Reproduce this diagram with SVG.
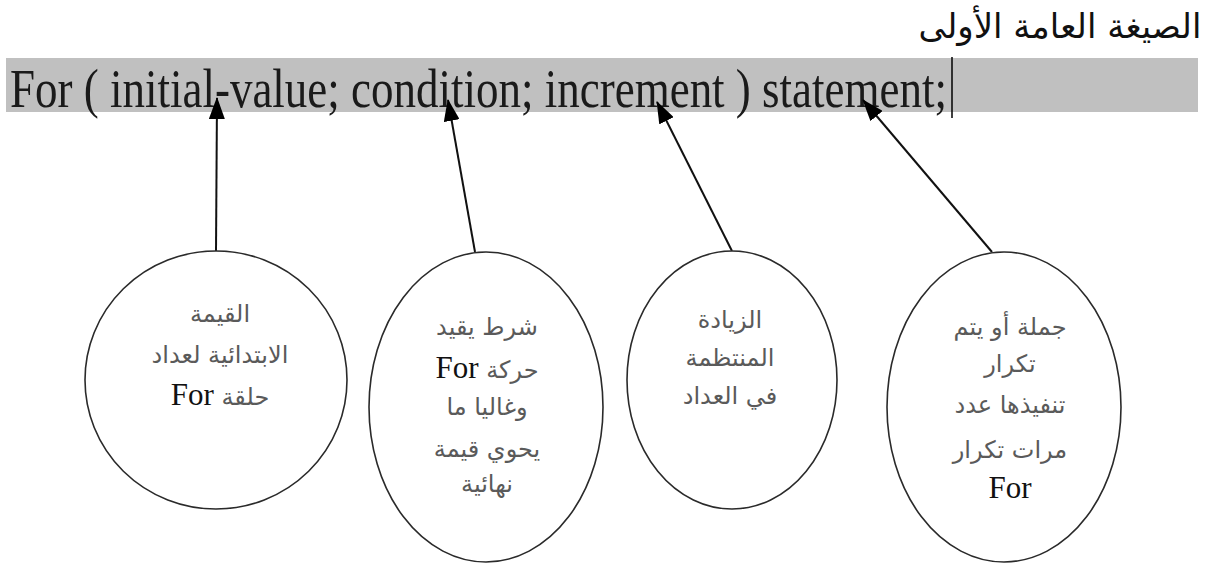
<svg xmlns="http://www.w3.org/2000/svg" width="1209" height="565" viewBox="0 0 1209 565">
<style>
.ar{font-family:"DejaVu Sans","Noto Sans",sans-serif;font-size:24px;fill:#5a5a5a;text-anchor:middle}
.for{font-family:"Liberation Serif",serif;font-size:31px;fill:#111}
.node ellipse{fill:#fff;stroke:#2a2a2a;stroke-width:1.6}
.conn line{stroke:#111;stroke-width:2}
</style>
<defs>
<marker id="ah" markerUnits="userSpaceOnUse" markerWidth="22" markerHeight="16" refX="21" refY="8" orient="auto">
<path d="M0,0 L22,8 L0,16 z" fill="#000"/>
</marker>
</defs>
<rect width="1209" height="565" fill="#fff"/>
<g id="title">
<text x="1060" y="38" font-family="DejaVu Sans, sans-serif" font-size="34" fill="#111" text-anchor="middle">الصيغة العامة الأولى</text>
</g>
<g id="syntax">
<rect x="6" y="58" width="1192" height="54" fill="#c0c0c0"/>
<text x="10" y="107" font-family="Liberation Serif, serif" font-size="55" fill="#1a1a1a" textLength="937" lengthAdjust="spacingAndGlyphs">For ( initial-value; condition; increment ) statement;</text>
<line x1="952" y1="57" x2="952" y2="118" stroke="#000" stroke-width="1.5"/>
</g>
<g class="conn" id="connectors">
<line x1="216" y1="251" x2="217" y2="98" marker-end="url(#ah)"/>
<line x1="475" y1="252" x2="448" y2="100" marker-end="url(#ah)"/>
<line x1="732" y1="251" x2="657" y2="102" marker-end="url(#ah)"/>
<line x1="992" y1="252" x2="863" y2="100" marker-end="url(#ah)"/>
</g>
<g class="node" id="node-initial">
<ellipse cx="216" cy="380" rx="131" ry="129"/>
<text class="ar" x="220" y="322">القيمة</text>
<text class="ar" x="220" y="363">الابتدائية لعداد</text>
<text class="ar" x="220" y="405" direction="rtl">حلقة <tspan class="for">For</tspan></text>
</g>
<g class="node" id="node-condition">
<ellipse cx="486" cy="407" rx="117" ry="155"/>
<text class="ar" x="487" y="335">شرط يقيد</text>
<text class="ar" x="487" y="378" direction="rtl">حركة <tspan class="for">For</tspan></text>
<text class="ar" x="487" y="415">وغاليا ما</text>
<text class="ar" x="487" y="457">يحوي قيمة</text>
<text class="ar" x="487" y="492">نهائية</text>
</g>
<g class="node" id="node-increment">
<ellipse cx="732" cy="380" rx="105" ry="129"/>
<text class="ar" x="730" y="328">الزيادة</text>
<text class="ar" x="730" y="366">المنتظمة</text>
<text class="ar" x="730" y="404">في العداد</text>
</g>
<g class="node" id="node-statement">
<ellipse cx="1004" cy="407" rx="117" ry="155"/>
<text class="ar" x="1010" y="335">جملة أو يتم</text>
<text class="ar" x="1010" y="372">تكرار</text>
<text class="ar" x="1010" y="413">تنفيذها عدد</text>
<text class="ar" x="1010" y="458">مرات تكرار</text>
<text class="for" x="1010" y="498" text-anchor="middle">For</text>
</g>
</svg>
